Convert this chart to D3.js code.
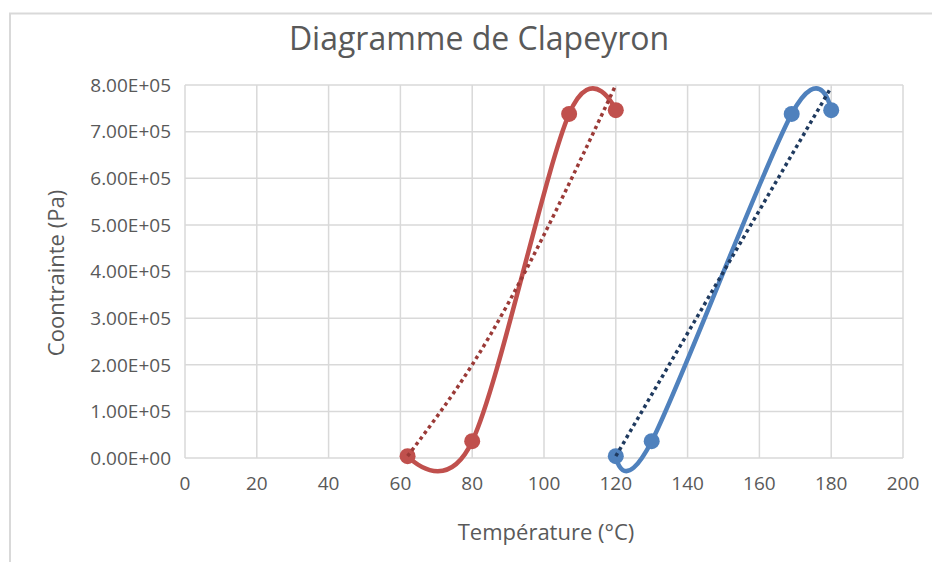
<!DOCTYPE html>
<html>
<head>
<meta charset="utf-8">
<script src="https://cdn.jsdelivr.net/npm/d3@7"></script>
<style>
  body { margin: 0; background: #fff; }
  text { font-family: "Open Sans", sans-serif; fill: #595959; }
</style>
</head>
<body>
<div id="chart"></div>
<script>
// Data
const redTemps = [62, 80, 107, 120];
const redStress = [4000, 36000, 738000, 746000];
const blueTemps = [120, 130, 169, 180];
const blueStress = [4000, 36000, 738000, 746000];
// dotted trend lines
const redTrend = [[62, 4000], [80, 200000], [120, 800000]];
const blueTrend = [[120, 4000], [180, 795000]];
const xTicks = [0, 20, 40, 60, 80, 100, 120, 140, 160, 180, 200];
const yTicks = [0, 100000, 200000, 300000, 400000, 500000, 600000, 700000, 800000];

const width = 932;
const height = 562;
const margin = { top: 85, right: 29, bottom: 104, left: 185 };

const svg = d3.select("#chart")
  .append("svg")
  .attr("width", width)
  .attr("height", height);

// chart frame (only top and left visible in the picture)
svg.append("path")
  .attr("d", `M10,${height} V13.5 H${width}`)
  .attr("fill", "none")
  .attr("stroke", "#d9d9d9")
  .attr("stroke-width", 2);

const x = d3.scaleLinear().domain([0, 200]).range([margin.left, width - margin.right]);
const y = d3.scaleLinear().domain([0, 800000]).range([height - margin.bottom, margin.top]);

// grid
svg.append("g")
  .selectAll("line")
  .data(yTicks)
  .join("line")
  .attr("x1", x(0)).attr("x2", x(200))
  .attr("y1", (d) => y(d)).attr("y2", (d) => y(d))
  .attr("stroke", "#d9d9d9")
  .attr("stroke-width", 1.5);

svg.append("g")
  .selectAll("line")
  .data(xTicks)
  .join("line")
  .attr("x1", (d) => x(d)).attr("x2", (d) => x(d))
  .attr("y1", y(0)).attr("y2", y(800000))
  .attr("stroke", "#d9d9d9")
  .attr("stroke-width", 1.5);

// tick labels
svg.append("g")
  .selectAll("text")
  .data(yTicks)
  .join("text")
  .attr("x", x(0) - 14)
  .attr("y", (d) => y(d))
  .attr("dy", "0.36em")
  .attr("text-anchor", "end")
  .style("font-size", "19px")
  .text((d) => (d / 100000).toFixed(2) + "E+0" + (d === 0 ? "0" : "5"));

svg.append("g")
  .selectAll("text")
  .data(xTicks)
  .join("text")
  .attr("x", (d) => x(d))
  .attr("y", 490)
  .attr("text-anchor", "middle")
  .style("font-size", "19px")
  .text((d) => d);

// titles
svg.append("text")
  .attr("x", 479)
  .attr("y", 50)
  .attr("text-anchor", "middle")
  .style("font-size", "32px")
  .text("Diagramme de Clapeyron");

svg.append("text")
  .attr("x", 546)
  .attr("y", 540)
  .attr("text-anchor", "middle")
  .style("font-size", "22px")
  .text("Température (°C)");

svg.append("text")
  .attr("transform", "translate(56,273) rotate(-90)")
  .attr("dy", "0.35em")
  .attr("text-anchor", "middle")
  .style("font-size", "22px")
  .text("Coontrainte (Pa)");

// series
const series = [
  { temps: redTemps, stress: redStress, trend: redTrend, color: "#c0504d", trendColor: "#9b3a37" },
  { temps: blueTemps, stress: blueStress, trend: blueTrend, color: "#4f81bd", trendColor: "#1f3a5f" },
];

const smooth = d3.line()
  .x((d) => x(d[0]))
  .y((d) => y(d[1]))
  .curve(d3.curveCardinal.tension(0));

const trendLine = d3.line()
  .x((d) => x(d[0]))
  .y((d) => y(d[1]))
  .curve(d3.curveMonotoneX);

series.forEach((s) => {
  const pts = s.temps.map((t, i) => [t, s.stress[i]]);

  svg.append("path")
    .datum(pts)
    .attr("d", smooth)
    .attr("fill", "none")
    .attr("stroke", s.color)
    .attr("stroke-width", 4.5)
    .attr("stroke-linejoin", "round");

  svg.append("g")
    .selectAll("circle")
    .data(pts)
    .join("circle")
    .attr("cx", (d) => x(d[0]))
    .attr("cy", (d) => y(d[1]))
    .attr("r", 8)
    .attr("fill", s.color);

  svg.append("path")
    .datum(s.trend)
    .attr("d", trendLine)
    .attr("fill", "none")
    .attr("stroke", s.trendColor)
    .attr("stroke-width", 3.5)
    .attr("stroke-dasharray", "3.5,3.5");
});
</script>
</body>
</html>
